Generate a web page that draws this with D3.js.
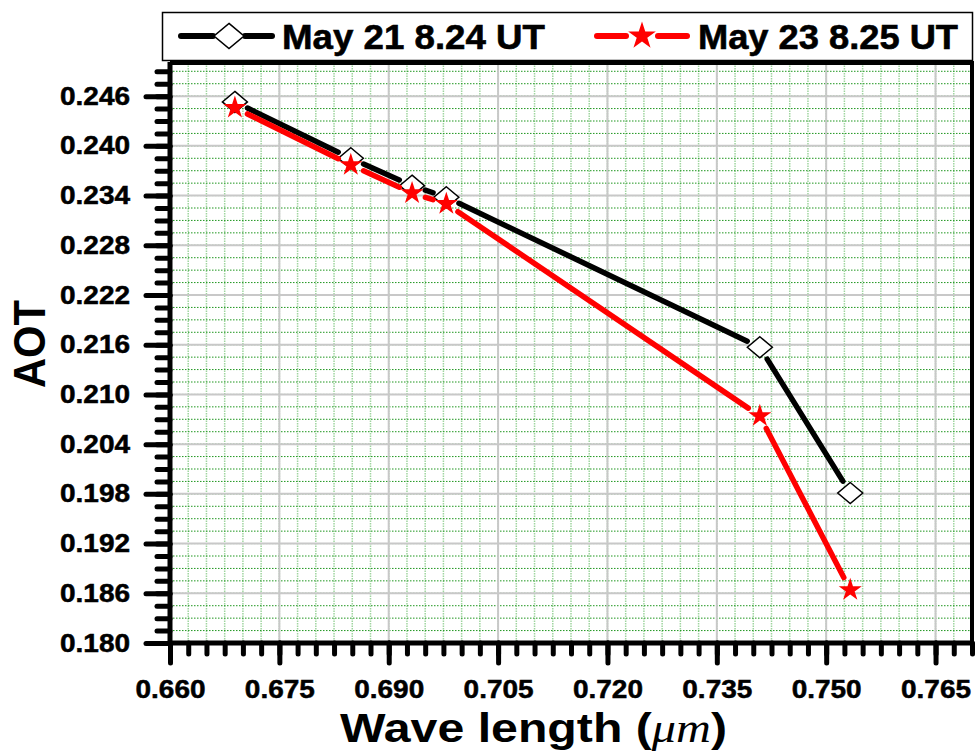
<!DOCTYPE html>
<html>
<head>
<meta charset="utf-8">
<script src="https://cdn.jsdelivr.net/npm/d3@7"></script>
<style>
  body { margin: 0; background: #fff; }
  text { font-family: "Liberation Sans", Arial, sans-serif; font-weight: bold; }
</style>
</head>
<body>
<div id="chart"></div>
<script>
// values
var wavelength = [0.6689, 0.6848, 0.6932, 0.6979, 0.7409, 0.7533];
var may21 = [0.2453, 0.2385, 0.2352, 0.2338, 0.2157, 0.1981];
var may23 = [0.2446, 0.2377, 0.2343, 0.2330, 0.2074, 0.1864];
var seriesNames = ["May 21 8.24 UT", "May 23 8.25 UT"];
var xTicks = [0.660, 0.675, 0.690, 0.705, 0.720, 0.735, 0.750, 0.765];
var yTicks = [0.180, 0.186, 0.192, 0.198, 0.204, 0.210, 0.216, 0.222, 0.228, 0.234, 0.240, 0.246];

var W = 975, H = 754;
var margin = {top: 63, right: 3, bottom: 111, left: 170};
var width = W - margin.left - margin.right,   // 802
    height = H - margin.top - margin.bottom;  // 580

var x = d3.scaleLinear().domain([0.66, 0.77]).range([0, width]);
var y = d3.scaleLinear().domain([0.18, 0.25]).range([height, 0]);

var xMinor = d3.range(0, 45).map(k => 0.66 + k * 0.0025);
var yMinor = d3.range(0, 47).map(k => 0.18 + k * 0.0015);
var fmt = d3.format(".3f");

var svg = d3.select("#chart").append("svg")
    .attr("width", W).attr("height", H);
var g = svg.append("g")
    .attr("transform", "translate(" + margin.left + "," + margin.top + ")");

// minor grid
g.append("g").selectAll("line").data(xMinor).enter().append("line")
    .attr("x1", d => x(d)).attr("x2", d => x(d))
    .attr("y1", 0).attr("y2", height)
    .attr("stroke", "#6cbf6c").attr("stroke-opacity", 0.65)
    .attr("stroke-width", 1.5).attr("stroke-dasharray", "1.5,1");
g.append("g").selectAll("line").data(yMinor).enter().append("line")
    .attr("x1", 0).attr("x2", width)
    .attr("y1", d => y(d)).attr("y2", d => y(d))
    .attr("stroke", "#1e961e")
    .attr("stroke-width", 1).attr("stroke-dasharray", "1.5,1.5");

// major grid
g.append("g").selectAll("line").data(xTicks).enter().append("line")
    .attr("x1", d => x(d)).attr("x2", d => x(d))
    .attr("y1", 0).attr("y2", height)
    .attr("stroke", "#c8c8c8").attr("stroke-width", 2);
g.append("g").selectAll("line").data(yTicks).enter().append("line")
    .attr("x1", 0).attr("x2", width)
    .attr("y1", d => y(d)).attr("y2", d => y(d))
    .attr("stroke", "#c8c8c8").attr("stroke-width", 2);

// frame top / right
g.append("path")
    .attr("d", "M0,0H" + width + "V" + height)
    .attr("fill", "none").attr("stroke", "#000").attr("stroke-width", 4);

// axes
function styleAxis(sel) {
  sel.select(".domain").remove();
  sel.selectAll(".tick line").attr("stroke", "#000")
    .attr("stroke-width", 5).attr("stroke-linecap", "round");
}
var yMinorAxis = g.append("g")
    .call(d3.axisLeft(y).tickValues(yMinor).tickSize(13).tickFormat(""));
styleAxis(yMinorAxis);
var yAxis = g.append("g")
    .call(d3.axisLeft(y).tickValues(yTicks).tickSize(24).tickPadding(16).tickFormat(fmt));
styleAxis(yAxis);
yAxis.selectAll("text").attr("font-size", 25).attr("fill", "#000")
    .attr("stroke", "#000").attr("stroke-width", 0.5)
    .attr("textLength", 70).attr("lengthAdjust", "spacingAndGlyphs");

var xMinorAxis = g.append("g").attr("transform", "translate(0," + height + ")")
    .call(d3.axisBottom(x).tickValues(xMinor).tickSize(11).tickFormat(""));
styleAxis(xMinorAxis);
var xAxis = g.append("g").attr("transform", "translate(0," + height + ")")
    .call(d3.axisBottom(x).tickValues(xTicks).tickSize(20).tickPadding(17).tickFormat(fmt));
styleAxis(xAxis);
xAxis.selectAll("text").attr("font-size", 25).attr("fill", "#000")
    .attr("stroke", "#000").attr("stroke-width", 0.5)
    .attr("textLength", 70).attr("lengthAdjust", "spacingAndGlyphs");

// axis lines
g.append("line").attr("x1", 0).attr("x2", 0).attr("y1", -1).attr("y2", height + 2)
    .attr("stroke", "#000").attr("stroke-width", 5);
g.append("line").attr("x1", -2).attr("x2", width + 2).attr("y1", height).attr("y2", height)
    .attr("stroke", "#000").attr("stroke-width", 5);

// series
var diamondPath = "M0,-10.5L12.5,0L0,10.5L-12.5,0Z";
var starPath = d3.symbol(d3.symbolStar, 165)();

function gappedSegments(pts, gap) {
  var segs = [];
  for (var i = 0; i < pts.length - 1; i++) {
    var a = pts[i], b = pts[i + 1];
    var dx = b[0] - a[0], dy = b[1] - a[1], len = Math.sqrt(dx * dx + dy * dy);
    if (len <= 2 * gap) continue;
    var ux = dx / len, uy = dy / len;
    segs.push([[a[0] + ux * gap, a[1] + uy * gap], [b[0] - ux * gap, b[1] - uy * gap]]);
  }
  return segs;
}

function drawSeries(vals, color, marker, fill, stroke) {
  var pts = wavelength.map((w, i) => [x(w), y(vals[i])]);
  g.append("g").selectAll("line").data(gappedSegments(pts, 14)).enter().append("line")
      .attr("x1", d => d[0][0]).attr("y1", d => d[0][1])
      .attr("x2", d => d[1][0]).attr("y2", d => d[1][1])
      .attr("stroke", color).attr("stroke-width", 5.5).attr("stroke-linecap", "round");
  g.append("g").selectAll("path").data(pts).enter().append("path")
      .attr("d", marker)
      .attr("transform", d => "translate(" + d[0] + "," + d[1] + ")")
      .attr("fill", fill).attr("stroke", stroke).attr("stroke-width", 1.5);
}
drawSeries(may21, "#000", diamondPath, "#fff", "#000");
drawSeries(may23, "#ff0000", starPath, "#ff0000", "none");

// legend
var lg = svg.append("g");
lg.append("rect").attr("x", 162.5).attr("y", 12.5).attr("width", 810).attr("height", 48)
    .attr("fill", "#fff").attr("stroke", "#000").attr("stroke-width", 1.5);
var legendItems = [
  {name: seriesNames[0], color: "#000", marker: diamondPath, fill: "#fff", stroke: "#000", x0: 181, cx: 229, x1: 272, tx: 282, tw: 263},
  {name: seriesNames[1], color: "#ff0000", marker: starPath, fill: "#ff0000", stroke: "none", x0: 597, cx: 642, x1: 687, tx: 698, tw: 260}
];
legendItems.forEach(function(it) {
  lg.append("line").attr("x1", it.x0).attr("x2", it.cx - 16).attr("y1", 36).attr("y2", 36)
    .attr("stroke", it.color).attr("stroke-width", 6).attr("stroke-linecap", "round");
  lg.append("line").attr("x1", it.cx + 16).attr("x2", it.x1).attr("y1", 36).attr("y2", 36)
    .attr("stroke", it.color).attr("stroke-width", 6).attr("stroke-linecap", "round");
  lg.append("path").attr("d", it.marker).attr("transform", "translate(" + it.cx + ",36) scale(1.2)")
    .attr("fill", it.fill).attr("stroke", it.stroke).attr("stroke-width", 1.3);
  lg.append("text").attr("x", it.tx).attr("y", 49).attr("font-size", 35)
    .attr("stroke", "#000").attr("stroke-width", 0.6)
    .attr("textLength", it.tw).attr("lengthAdjust", "spacingAndGlyphs")
    .text(it.name);
});

// axis titles
svg.append("text")
    .attr("transform", "translate(45,344) rotate(-90)")
    .attr("text-anchor", "middle").attr("font-size", 45)
    .attr("textLength", 88).attr("lengthAdjust", "spacingAndGlyphs")
    .text("AOT");
var xt = svg.append("text").attr("x", 340).attr("y", 742).attr("font-size", 41)
    .attr("textLength", 387).attr("lengthAdjust", "spacingAndGlyphs");
xt.append("tspan").text("Wave length (");
xt.append("tspan").attr("font-family", "'Liberation Serif', 'Times New Roman', serif")
    .attr("font-style", "italic").attr("font-weight", "normal").text("μm");
xt.append("tspan").text(")");
</script>
</body>
</html>
